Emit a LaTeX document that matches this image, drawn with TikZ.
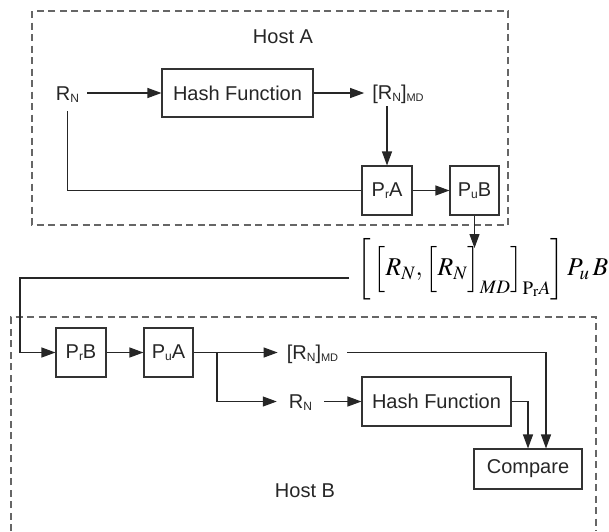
\documentclass[tikz,border=0pt]{standalone}
\usepackage{mathptmx}
\usepackage[no-math]{fontspec}
\setmainfont{Liberation Sans}
\usepackage{graphicx}
\usetikzlibrary{arrows.meta}
\newcommand\lowsub[1]{\raisebox{-2pt}{\fontsize{12}{12}\selectfont #1}}
\newcommand\lowsubs[1]{\raisebox{-2pt}{\fontsize{11}{11}\selectfont #1}}
\begin{document}
\begin{tikzpicture}[x=1pt,y=-1pt,
  font=\fontsize{20}{24}\selectfont,
  box/.style={draw=black!80,line width=1.1pt,inner sep=0,text=black!85},
  lbl/.style={inner sep=0,text=black!85,anchor=base},
  host/.style={draw=black!60,line width=1.4pt,dash pattern=on 7pt off 4.5pt},
  arr/.style={draw=black!85,line width=1.1pt,-{Triangle[length=14pt,width=10pt]}},
  ln/.style={draw=black!85,line width=1.1pt}]
\useasboundingbox (0,0) rectangle (609,531);
\fill[white] (0,0) rectangle (609,531);
% Host frames
\draw[host] (32,11) rectangle (508,225);
\draw[host] (11,531) -- (11,317) -- (596,317) -- (596,531);
% Host A
\node[lbl] (hostA) at (283,43) {Host A};
\node[lbl] (rnA) at (67.5,100) {R\lowsub{N}};
\node[box,minimum width=151pt,minimum height=48pt] (hashA) at (237.5,93) {Hash Function};
\node[lbl] (mdA) at (398,99) {[R\lowsub{N}]\lowsubs{MD}};
\node[box,minimum width=50pt,minimum height=49pt] (prA) at (387,190.5) {P\lowsub{r}A};
\node[box,minimum width=49pt,minimum height=49pt] (puB) at (474.5,190.5) {P\lowsub{u}B};
\draw[arr] ([xshift=8pt]rnA.east |- hashA.west) -- (hashA.west);
\draw[arr] (hashA.east) -- ([xshift=-8pt]mdA.west |- hashA.east);
\draw[arr] ([yshift=-3pt]mdA.south -| prA.north) -- (prA.north);
\draw[ln] ([yshift=-9pt]rnA.south) |- (prA.west);
\draw[arr] (prA.east) -- (puB.west);
% message
\node[inner sep=0,anchor=west] (form) at (357,269) {\resizebox{251pt}{!}{\fontsize{26}{30}\selectfont$\left[\rule[-20pt]{0pt}{58pt}\left[\rule[-7pt]{0pt}{33pt}R_N,\left[\rule[-7pt]{0pt}{33pt}R_N\right]_{MD}\right]_{\mathrm{P_r}A}\right]P_u\,B$}};
\coordinate (ftip) at (474.5,248);
\draw[arr] (puB.south) -- (ftip);
% Host B
\node[box,minimum width=50pt,minimum height=49pt] (prB) at (81,352.5) {P\lowsub{r}B};
\node[box,minimum width=49pt,minimum height=49pt] (puA) at (168.5,352.5) {P\lowsub{u}A};
\node[lbl] (mdB) at (312.5,359) {[R\lowsub{N}]\lowsubs{MD}};
\node[lbl] (rnB) at (300.5,408) {R\lowsub{N}};
\node[box,minimum width=149pt,minimum height=49pt] (hashB) at (436.5,401.5) {Hash Function};
\node[box,minimum width=108pt,minimum height=40pt] (compare) at (528,469) {Compare};
\node[lbl] (hostB) at (305,497) {Host B};
\coordinate (fl) at (349,278);
\coordinate (cB) at (20,352.5);
\draw[arr] (fl) -| (cB) -- (prB.west);
\draw[arr] (prB.east) -- (puA.west);
\coordinate (br) at (217,352.5);
\draw[ln] (puA.east) -- (br);
\draw[arr] (br) -- ([xshift=-9pt]mdB.west |- br);
\draw[arr] (br) |- ([xshift=-12pt]rnB.west |- hashB.west);
\draw[arr] ([xshift=12pt]rnB.east |- hashB.west) -- (hashB.west);
\draw[arr] ([xshift=9pt]mdB.east |- br) -| ([xshift=18pt]compare.north);
\draw[arr] (hashB.east) -| (compare.north);
\end{tikzpicture}
\end{document}
